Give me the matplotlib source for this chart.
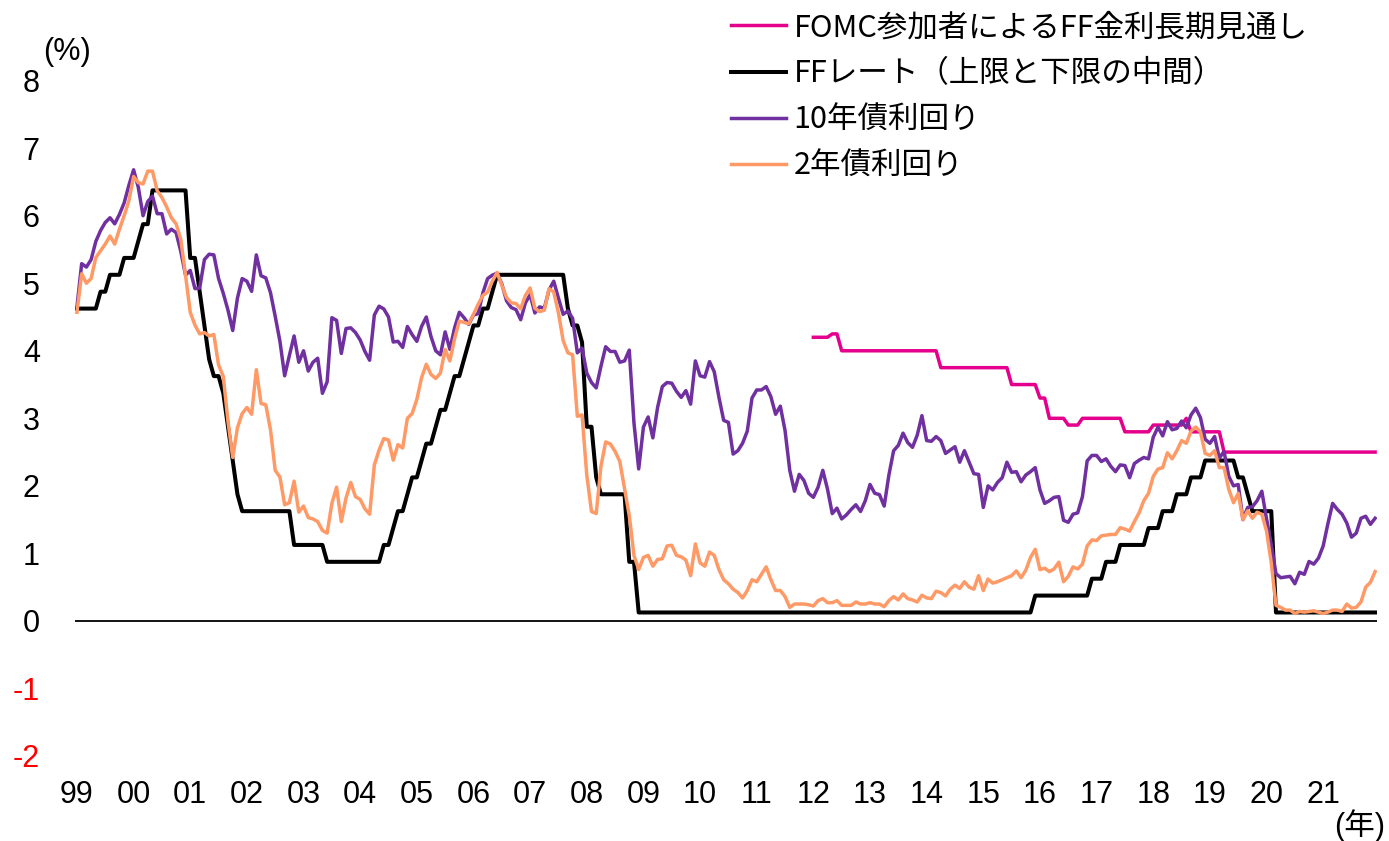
import matplotlib
matplotlib.use("Agg")
import matplotlib.pyplot as plt
import numpy as np

# month-end values, Jan 1999 .. Dec 2021 (one row per year)
ff_rate = [
    4.625, 4.625, 4.625, 4.625, 4.625, 4.875, 4.875, 5.125, 5.125, 5.125, 5.375, 5.375,  # 99
    5.375, 5.625, 5.875, 5.875, 6.375, 6.375, 6.375, 6.375, 6.375, 6.375, 6.375, 6.375,  # 00
    5.375, 5.375, 4.875, 4.375, 3.875, 3.625, 3.625, 3.375, 2.875, 2.375, 1.875, 1.625,  # 01
    1.625, 1.625, 1.625, 1.625, 1.625, 1.625, 1.625, 1.625, 1.625, 1.625, 1.125, 1.125,  # 02
    1.125, 1.125, 1.125, 1.125, 1.125, 0.875, 0.875, 0.875, 0.875, 0.875, 0.875, 0.875,  # 03
    0.875, 0.875, 0.875, 0.875, 0.875, 1.125, 1.125, 1.375, 1.625, 1.625, 1.875, 2.125,  # 04
    2.125, 2.375, 2.625, 2.625, 2.875, 3.125, 3.125, 3.375, 3.625, 3.625, 3.875, 4.125,  # 05
    4.375, 4.375, 4.625, 4.625, 4.875, 5.125, 5.125, 5.125, 5.125, 5.125, 5.125, 5.125,  # 06
    5.125, 5.125, 5.125, 5.125, 5.125, 5.125, 5.125, 5.125, 4.625, 4.375, 4.375, 4.125,  # 07
    2.875, 2.875, 2.125, 1.875, 1.875, 1.875, 1.875, 1.875, 1.875, 0.875, 0.875, 0.125,  # 08
    0.125, 0.125, 0.125, 0.125, 0.125, 0.125, 0.125, 0.125, 0.125, 0.125, 0.125, 0.125,  # 09
    0.125, 0.125, 0.125, 0.125, 0.125, 0.125, 0.125, 0.125, 0.125, 0.125, 0.125, 0.125,  # 10
    0.125, 0.125, 0.125, 0.125, 0.125, 0.125, 0.125, 0.125, 0.125, 0.125, 0.125, 0.125,  # 11
    0.125, 0.125, 0.125, 0.125, 0.125, 0.125, 0.125, 0.125, 0.125, 0.125, 0.125, 0.125,  # 12
    0.125, 0.125, 0.125, 0.125, 0.125, 0.125, 0.125, 0.125, 0.125, 0.125, 0.125, 0.125,  # 13
    0.125, 0.125, 0.125, 0.125, 0.125, 0.125, 0.125, 0.125, 0.125, 0.125, 0.125, 0.125,  # 14
    0.125, 0.125, 0.125, 0.125, 0.125, 0.125, 0.125, 0.125, 0.125, 0.125, 0.125, 0.375,  # 15
    0.375, 0.375, 0.375, 0.375, 0.375, 0.375, 0.375, 0.375, 0.375, 0.375, 0.375, 0.625,  # 16
    0.625, 0.625, 0.875, 0.875, 0.875, 1.125, 1.125, 1.125, 1.125, 1.125, 1.125, 1.375,  # 17
    1.375, 1.375, 1.625, 1.625, 1.625, 1.875, 1.875, 1.875, 2.125, 2.125, 2.125, 2.375,  # 18
    2.375, 2.375, 2.375, 2.375, 2.375, 2.375, 2.125, 2.125, 1.875, 1.625, 1.625, 1.625,  # 19
    1.625, 1.625, 0.125, 0.125, 0.125, 0.125, 0.125, 0.125, 0.125, 0.125, 0.125, 0.125,  # 20
    0.125, 0.125, 0.125, 0.125, 0.125, 0.125, 0.125, 0.125, 0.125, 0.125, 0.125, 0.125,  # 21
]

ust10y = [
    4.65, 5.29, 5.24, 5.35, 5.62, 5.78, 5.90, 5.97, 5.88, 6.02, 6.19, 6.45,  # 99
    6.68, 6.42, 6.00, 6.21, 6.29, 6.03, 6.03, 5.73, 5.80, 5.75, 5.47, 5.12,  # 00
    5.19, 4.92, 4.93, 5.35, 5.43, 5.42, 5.07, 4.85, 4.60, 4.30, 4.78, 5.07,  # 01
    5.03, 4.88, 5.42, 5.11, 5.08, 4.86, 4.51, 4.14, 3.63, 3.93, 4.22, 3.83,  # 02
    4.00, 3.70, 3.83, 3.89, 3.37, 3.54, 4.49, 4.45, 3.96, 4.33, 4.34, 4.27,  # 03
    4.16, 3.99, 3.86, 4.53, 4.66, 4.62, 4.50, 4.13, 4.14, 4.05, 4.36, 4.24,  # 04
    4.14, 4.36, 4.50, 4.21, 4.00, 3.94, 4.28, 4.02, 4.34, 4.57, 4.49, 4.39,  # 05
    4.53, 4.55, 4.86, 5.07, 5.12, 5.15, 4.99, 4.74, 4.64, 4.61, 4.46, 4.71,  # 06
    4.83, 4.56, 4.65, 4.63, 4.90, 5.03, 4.78, 4.54, 4.59, 4.48, 3.97, 4.04,  # 07
    3.67, 3.53, 3.45, 3.77, 4.06, 3.99, 3.99, 3.83, 3.85, 4.01, 2.93, 2.25,  # 08
    2.87, 3.02, 2.71, 3.16, 3.47, 3.53, 3.52, 3.40, 3.31, 3.41, 3.21, 3.85,  # 09
    3.63, 3.61, 3.84, 3.69, 3.31, 2.97, 2.94, 2.47, 2.52, 2.63, 2.81, 3.30,  # 10
    3.42, 3.42, 3.47, 3.32, 3.06, 3.18, 2.82, 2.23, 1.92, 2.17, 2.08, 1.89,  # 11
    1.83, 1.98, 2.23, 1.95, 1.59, 1.67, 1.51, 1.57, 1.65, 1.72, 1.62, 1.78,  # 12
    2.02, 1.89, 1.87, 1.70, 2.16, 2.52, 2.60, 2.78, 2.64, 2.57, 2.75, 3.04,  # 13
    2.67, 2.66, 2.73, 2.67, 2.48, 2.53, 2.58, 2.35, 2.52, 2.35, 2.18, 2.17,  # 14
    1.68, 2.00, 1.94, 2.05, 2.12, 2.35, 2.20, 2.21, 2.06, 2.16, 2.21, 2.27,  # 15
    1.94, 1.74, 1.78, 1.83, 1.84, 1.49, 1.46, 1.58, 1.60, 1.84, 2.37, 2.45,  # 16
    2.45, 2.36, 2.40, 2.29, 2.21, 2.31, 2.30, 2.12, 2.33, 2.38, 2.42, 2.40,  # 17
    2.72, 2.87, 2.74, 2.95, 2.83, 2.85, 2.96, 2.86, 3.05, 3.15, 3.01, 2.69,  # 18
    2.63, 2.73, 2.41, 2.51, 2.14, 2.00, 2.02, 1.50, 1.68, 1.69, 1.78, 1.92,  # 19
    1.51, 1.13, 0.70, 0.64, 0.65, 0.66, 0.55, 0.72, 0.69, 0.88, 0.84, 0.93,  # 20
    1.11, 1.44, 1.74, 1.65, 1.58, 1.45, 1.24, 1.30, 1.52, 1.55, 1.43, 1.52,  # 21
]

ust2y = [
    4.57, 5.14, 5.00, 5.07, 5.38, 5.48, 5.58, 5.70, 5.58, 5.80, 6.00, 6.22,  # 99
    6.58, 6.49, 6.47, 6.66, 6.66, 6.37, 6.27, 6.13, 5.97, 5.88, 5.65, 5.12,  # 00
    4.57, 4.38, 4.25, 4.27, 4.22, 4.24, 3.79, 3.62, 2.95, 2.42, 2.86, 3.07,  # 01
    3.16, 3.06, 3.72, 3.22, 3.20, 2.83, 2.23, 2.13, 1.72, 1.75, 2.07, 1.61,  # 02
    1.70, 1.53, 1.51, 1.47, 1.34, 1.30, 1.74, 1.98, 1.47, 1.82, 2.05, 1.84,  # 03
    1.80, 1.66, 1.58, 2.31, 2.53, 2.70, 2.68, 2.38, 2.61, 2.56, 3.00, 3.07,  # 04
    3.28, 3.60, 3.80, 3.65, 3.59, 3.67, 4.02, 3.85, 4.18, 4.44, 4.42, 4.40,  # 05
    4.54, 4.69, 4.82, 4.87, 5.03, 5.16, 4.97, 4.79, 4.71, 4.70, 4.62, 4.82,  # 06
    4.93, 4.63, 4.58, 4.60, 4.92, 4.87, 4.56, 4.15, 3.97, 3.94, 3.03, 3.05,  # 07
    2.16, 1.62, 1.59, 2.29, 2.65, 2.62, 2.51, 2.36, 1.96, 1.56, 0.97, 0.76,  # 08
    0.94, 0.97, 0.81, 0.91, 0.92, 1.11, 1.12, 0.97, 0.95, 0.90, 0.67, 1.14,  # 09
    0.86, 0.81, 1.02, 0.97, 0.76, 0.61, 0.55, 0.47, 0.42, 0.34, 0.45, 0.61,  # 10
    0.58, 0.69, 0.80, 0.61, 0.45, 0.45, 0.36, 0.20, 0.25, 0.25, 0.25, 0.24,  # 11
    0.22, 0.30, 0.33, 0.27, 0.27, 0.30, 0.23, 0.23, 0.23, 0.28, 0.25, 0.25,  # 12
    0.27, 0.25, 0.25, 0.21, 0.30, 0.36, 0.31, 0.40, 0.33, 0.31, 0.28, 0.38,  # 13
    0.34, 0.33, 0.44, 0.42, 0.37, 0.47, 0.53, 0.48, 0.58, 0.50, 0.47, 0.67,  # 14
    0.45, 0.62, 0.56, 0.58, 0.61, 0.64, 0.67, 0.74, 0.64, 0.75, 0.94, 1.06,  # 15
    0.76, 0.78, 0.73, 0.77, 0.87, 0.58, 0.66, 0.80, 0.77, 0.84, 1.11, 1.20,  # 16
    1.19, 1.26, 1.27, 1.28, 1.28, 1.38, 1.36, 1.33, 1.47, 1.60, 1.78, 1.89,  # 17
    2.14, 2.25, 2.27, 2.49, 2.40, 2.52, 2.67, 2.63, 2.81, 2.87, 2.80, 2.48,  # 18
    2.45, 2.52, 2.27, 2.27, 1.95, 1.75, 1.89, 1.50, 1.63, 1.52, 1.61, 1.58,  # 19
    1.33, 0.86, 0.23, 0.20, 0.16, 0.16, 0.11, 0.14, 0.13, 0.14, 0.15, 0.13,  # 20
    0.11, 0.13, 0.16, 0.16, 0.14, 0.25, 0.19, 0.20, 0.28, 0.50, 0.57, 0.73,  # 21
]

# FOMC longer-run FF rate projection, Jan 2012 .. Dec 2021
fomc_longrun = [
    4.20, 4.20, 4.20, 4.20, 4.25, 4.25, 4.00, 4.00, 4.00, 4.00, 4.00, 4.00,  # 12
    4.00, 4.00, 4.00, 4.00, 4.00, 4.00, 4.00, 4.00, 4.00, 4.00, 4.00, 4.00,  # 13
    4.00, 4.00, 4.00, 3.75, 3.75, 3.75, 3.75, 3.75, 3.75, 3.75, 3.75, 3.75,  # 14
    3.75, 3.75, 3.75, 3.75, 3.75, 3.75, 3.50, 3.50, 3.50, 3.50, 3.50, 3.50,  # 15
    3.30, 3.30, 3.00, 3.00, 3.00, 3.00, 2.90, 2.90, 2.90, 3.00, 3.00, 3.00,  # 16
    3.00, 3.00, 3.00, 3.00, 3.00, 3.00, 2.80, 2.80, 2.80, 2.80, 2.80, 2.80,  # 17
    2.90, 2.90, 2.90, 2.90, 2.90, 2.90, 2.90, 3.00, 2.80, 2.80, 2.80, 2.80,  # 18
    2.80, 2.80, 2.80, 2.50, 2.50, 2.50, 2.50, 2.50, 2.50, 2.50, 2.50, 2.50,  # 19
    2.50, 2.50, 2.50, 2.50, 2.50, 2.50, 2.50, 2.50, 2.50, 2.50, 2.50, 2.50,  # 20
    2.50, 2.50, 2.50, 2.50, 2.50, 2.50, 2.50, 2.50, 2.50, 2.50, 2.50, 2.50,  # 21
]
FOMC_START = 156  # Jan 2012

year_labels = ["99", "00", "01", "02", "03", "04", "05", "06", "07", "08", "09",
               "10", "11", "12", "13", "14", "15", "16", "17", "18", "19", "20", "21"]
y_ticks = [-2, -1, 0, 1, 2, 3, 4, 5, 6, 7, 8]

labels = ["FOMC参加者によるFF金利長期見通し", "FFレート（上限と下限の中間）",
          "10年債利回り", "2年債利回り"]
colors = ["#E4008C", "#000000", "#7030A0", "#FF9966"]

FONT = ["Liberation Sans", "Noto Sans CJK JP", "DejaVu Sans"]
plt.rcParams["font.family"] = FONT
FS = 22

months = np.arange(len(ff_rate))

fig = plt.figure(figsize=(13.89, 8.41), dpi=100)
ax = fig.add_axes([0.0537, 0.1011, 0.9380, 0.8030])

ax.plot(months[FOMC_START:], fomc_longrun, color=colors[0], lw=2.5,
        label=labels[0])
ax.plot(months, ff_rate, color=colors[1], lw=2.9, label=labels[1])
ax.plot(months, ust10y, color=colors[2], lw=2.5, label=labels[2])
ax.plot(months, ust2y, color=colors[3], lw=2.5, label=labels[3])
ax.axhline(0, color="black", lw=1.3, zorder=0)

ax.set_xlim(-0.5, len(months) - 0.5)
ax.set_ylim(-2, 8)
for side in ("top", "right", "left", "bottom"):
    ax.spines[side].set_visible(False)
ax.set_xticks(np.arange(0, len(months), 12), year_labels)
ax.set_yticks(y_ticks, [str(v) for v in y_ticks])
ax.tick_params(axis="both", length=0, labelsize=FS)
ax.tick_params(axis="x", pad=17)
ax.tick_params(axis="y", pad=25)
for lbl, v in zip(ax.get_yticklabels(), y_ticks):
    if v < 0:
        lbl.set_color("red")

fig.text(67 / 1389, 1 - 52 / 841, "(%)", fontsize=FS, ha="center", va="center")
fig.text(1360 / 1389, 1 - 826 / 841, "(年)", fontsize=FS, ha="center", va="center")

ax.legend(loc="upper left", bbox_to_anchor=(731 / 1389, 1 - 12 / 841),
          bbox_transform=fig.transFigure, frameon=False,
          handlelength=1.8, handletextpad=0.25, labelspacing=0.5,
          borderpad=0, borderaxespad=0,
          prop={"family": ["Noto Sans CJK JP"], "size": FS})

fig.savefig("out.png", dpi=100, facecolor="white")
